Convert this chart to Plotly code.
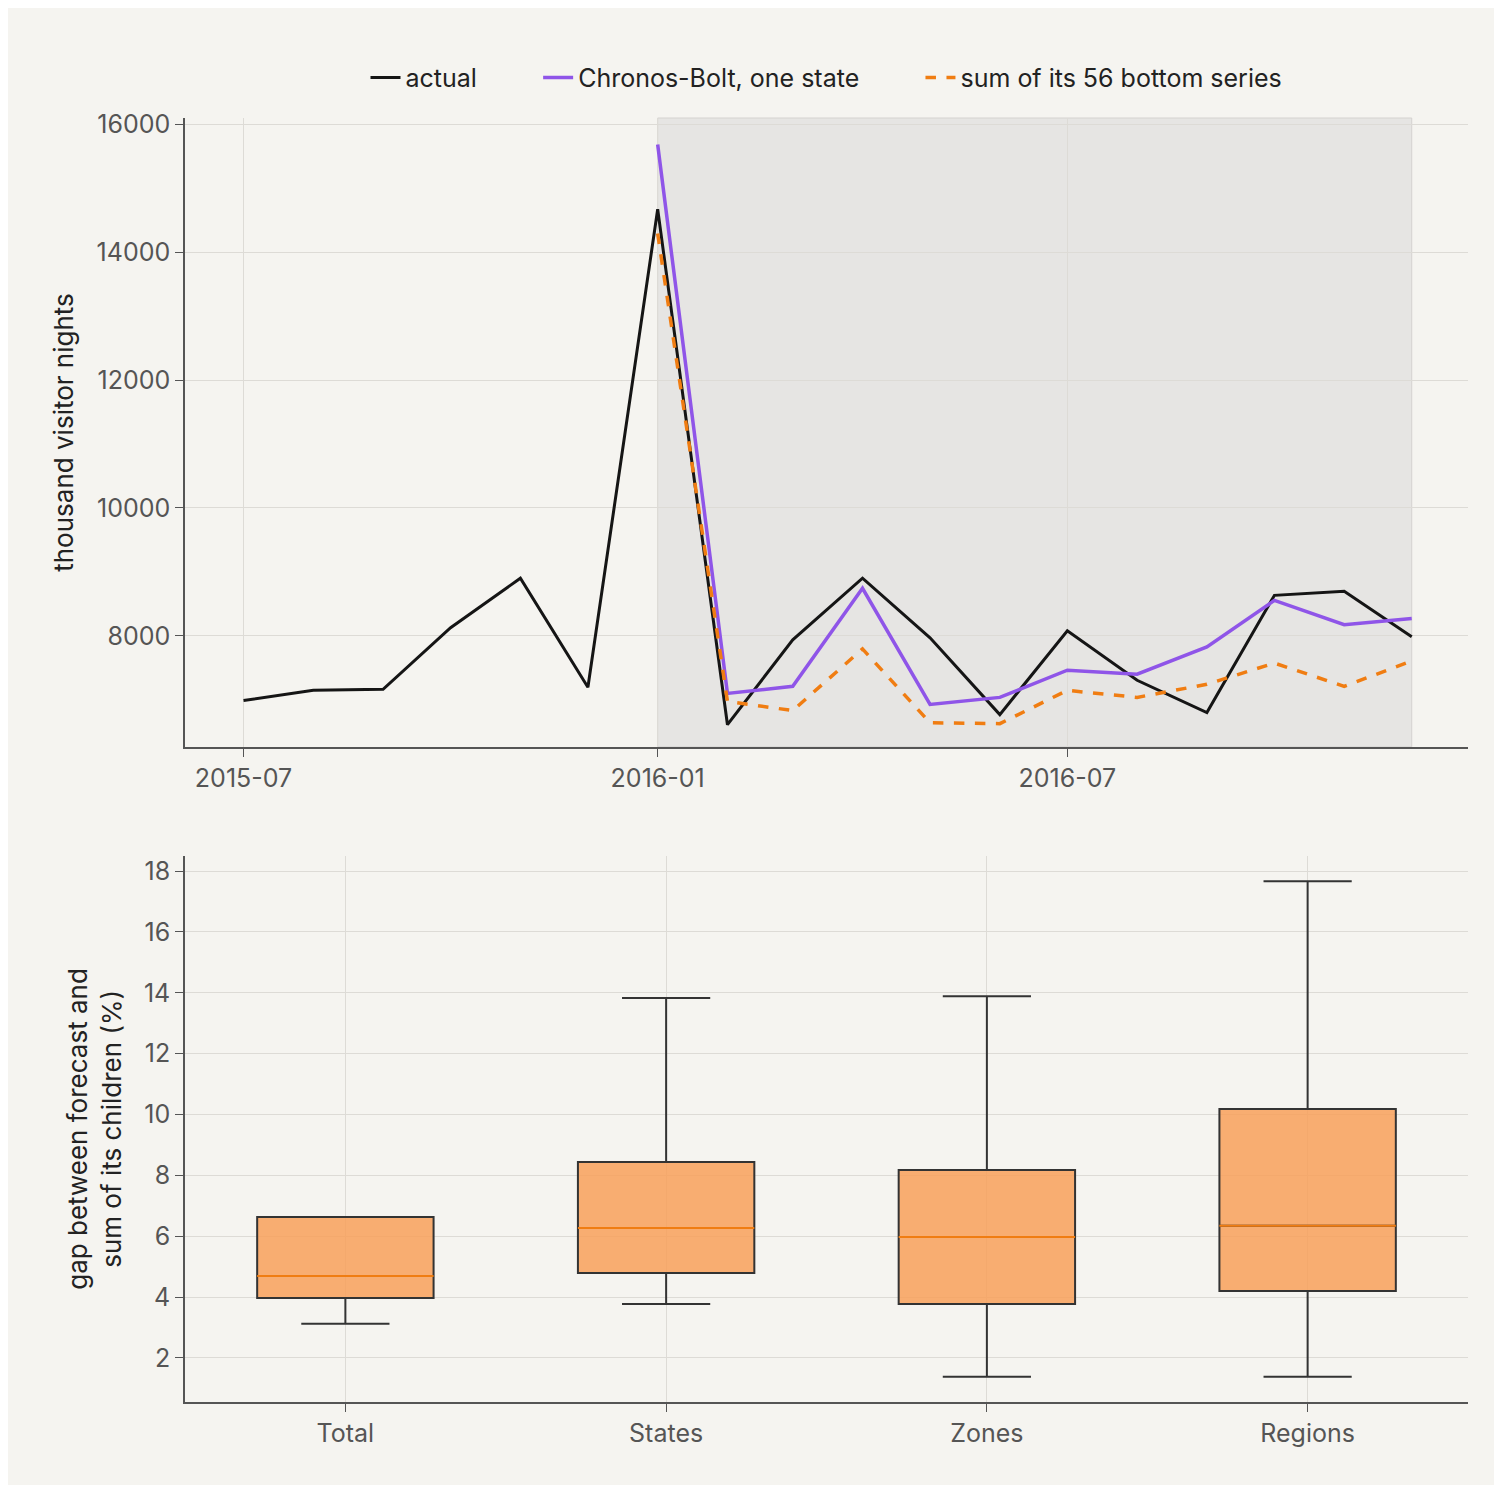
import plotly.graph_objects as go
from plotly.subplots import make_subplots

months = ["2015-07", "2015-08", "2015-09", "2015-10", "2015-11", "2015-12",
          "2016-01", "2016-02", "2016-03", "2016-04", "2016-05", "2016-06",
          "2016-07", "2016-08", "2016-09", "2016-10", "2016-11", "2016-12"]
actual = [6988, 7146, 7162, 8126, 8901, 7194, 14672, 6609, 7937, 8901, 7968, 6767,
          8079, 7304, 6798, 8632, 8696, 7984]
fc_months = months[6:]
chronos = [15684, 7099, 7209, 8743, 6925, 7036, 7462, 7399, 7826, 8553, 8174, 8269]
bottom_sum = [14293, 6972, 6830, 7794, 6640, 6625, 7146, 7036, 7241, 7573, 7209, 7605]

levels = ["Total", "States", "Zones", "Regions"]
q_low = [3.12, 3.77, 1.38, 1.38]
q1 = [3.97, 4.79, 3.77, 4.20]
med = [4.69, 6.27, 5.97, 6.34]
q3 = [6.63, 8.44, 8.18, 10.18]
q_high = [6.63, 13.83, 13.89, 17.67]

BG = "#f5f4f0"
FONT = "Inter, Noto Sans, sans-serif"
GRID = "#dddbd6"
PAD = "\u00a0" * 8

fig = make_subplots(rows=2, cols=1)

fig.add_trace(go.Scatter(x=months, y=actual, mode="lines", name="actual" + PAD,
                         line=dict(color="#151515", width=3)), row=1, col=1)
fig.add_trace(go.Scatter(x=fc_months, y=chronos, mode="lines", name="Chronos-Bolt, one state" + PAD,
                         line=dict(color="#8f55e8", width=3.5)), row=1, col=1)
fig.add_trace(go.Scatter(x=fc_months, y=bottom_sum, mode="lines", name="sum of its 56 bottom series",
                         line=dict(color="#f07d12", width=3.5, dash="dash")), row=1, col=1)

xs = list(range(len(levels)))
fig.add_trace(go.Box(x=xs, q1=q1, median=med, q3=q3, lowerfence=q_low, upperfence=q_high,
                     width=0.55, whiskerwidth=0.5, fillcolor="rgba(248,160,90,0.85)",
                     line=dict(color="#333333", width=2), showlegend=False,
                     hoverinfo="y"), row=2, col=1)
for i, m in enumerate(med):
    fig.add_trace(go.Scatter(x=[i - 0.275, i + 0.275], y=[m, m], mode="lines",
                             line=dict(color="#f07d12", width=2), showlegend=False,
                             hoverinfo="skip"), row=2, col=1)

axis_common = dict(showline=True, linecolor="#555", linewidth=1.5, ticks="outside",
                   tickcolor="#555", ticklen=8, showgrid=True, gridcolor=GRID,
                   tickfont=dict(size=25, color="#555"), zeroline=False)

fig.update_xaxes(**axis_common, row=1, col=1, range=["2015-06-05", "2016-12-26"],
                 tickvals=["2015-07-01", "2016-01-01", "2016-07-01"],
                 ticktext=["2015-07", "2016-01", "2016-07"])
fig.update_yaxes(**axis_common, row=1, col=1, range=[6261, 16100], tickformat="d",
                 tickvals=[8000, 10000, 12000, 14000, 16000],
                 title=dict(text="thousand visitor nights", font=dict(size=26, color="#222")))
fig.update_xaxes(**axis_common, row=2, col=1, range=[-0.5, 3.5],
                 tickvals=xs, ticktext=levels)
fig.update_yaxes(**axis_common, row=2, col=1, range=[0.55, 18.5], dtick=2, tick0=0,
                 title=dict(text="gap between forecast and<br>sum of its children (%)",
                            font=dict(size=26, color="#222")))

fig.update_layout(
    width=1502, height=1485, paper_bgcolor=BG, plot_bgcolor=BG,
    font=dict(family=FONT),
    margin=dict(l=177, r=42, t=40, b=91),
    xaxis=dict(domain=[0, 1]), yaxis=dict(domain=[0.4838, 0.9483]),
    xaxis2=dict(domain=[0, 1]), yaxis2=dict(domain=[0, 0.4033]),
    shapes=[dict(type="rect", xref="x", yref="y domain",
                 x0=fc_months[0] + "-01", x1=fc_months[-1] + "-01", y0=0, y1=1,
                 fillcolor="#e6e5e3", line=dict(color="#d4d3d0", width=1), layer="below")],
    legend=dict(orientation="h", x=0.5, xanchor="center", y=0.978, yanchor="middle",
                font=dict(size=25, color="#222"), bgcolor="rgba(0,0,0,0)"),
)

fig.write_html("out.html")
